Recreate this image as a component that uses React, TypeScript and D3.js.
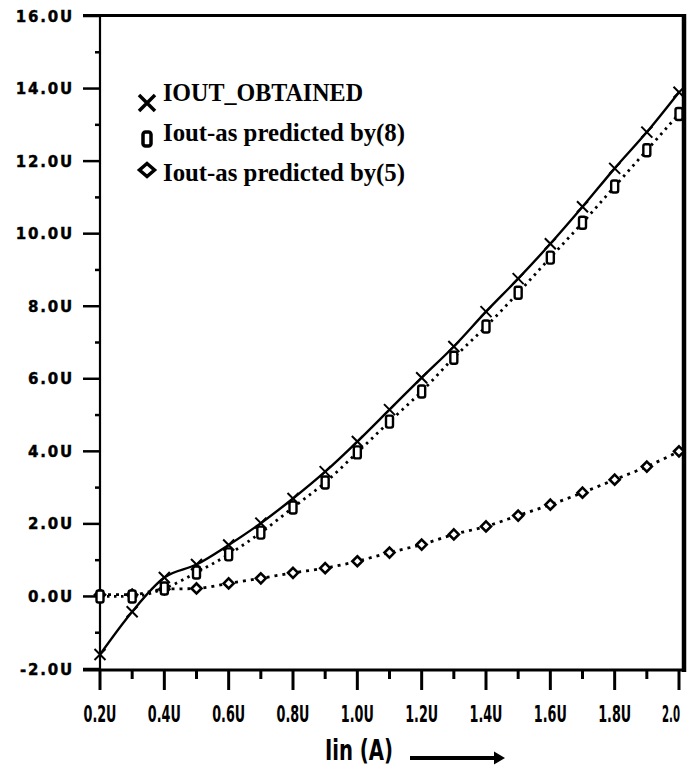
import React, { useEffect, useRef } from 'react';
import * as d3 from 'd3';

// Iin values (A, in micro units)
const iin = [0.2, 0.3, 0.4, 0.5, 0.6, 0.7, 0.8, 0.9, 1.0, 1.1, 1.2, 1.3, 1.4, 1.5, 1.6, 1.7, 1.8, 1.9, 2.0];
const ioutObtained = [-1.6, -0.42, 0.52, 0.88, 1.42, 2.02, 2.7, 3.44, 4.27, 5.15, 6.03, 6.89, 7.85, 8.76, 9.72, 10.74, 11.8, 12.8, 13.9];
const ioutPred8 = [0.0, 0.0, 0.22, 0.66, 1.16, 1.76, 2.45, 3.14, 3.97, 4.82, 5.65, 6.58, 7.44, 8.37, 9.34, 10.3, 11.3, 12.3, 13.3];
const ioutPred5 = [0.05, 0.05, 0.2, 0.22, 0.36, 0.5, 0.65, 0.78, 0.97, 1.21, 1.43, 1.71, 1.93, 2.23, 2.53, 2.86, 3.22, 3.58, 4.0];

const yTicks = [-2, 0, 2, 4, 6, 8, 10, 12, 14, 16];
const yMinor = [-1, 1, 3, 5, 7, 9, 11, 13, 15];
const xTicks = [0.2, 0.4, 0.6, 0.8, 1.0, 1.2, 1.4, 1.6, 1.8, 2.0];
const xMinor = [0.3, 0.5, 0.7, 0.9, 1.1, 1.3, 1.5, 1.7, 1.9];
const xTickLabels = ['0.2U', '0.4U', '0.6U', '0.8U', '1.0U', '1.2U', '1.4U', '1.6U', '1.8U', '2.0'];
const legendLabels = ['IOUT_OBTAINED', 'Iout-as predicted by(8)', 'Iout-as predicted by(5)'];

const W = 698, H = 770;

function App() {
  const svgRef = useRef<SVGSVGElement>(null);

  useEffect(() => {
    const svg = d3.select(svgRef.current);
    svg.selectAll('*').remove();

    const x = d3.scaleLinear().domain([0.2, 2.0]).range([100, 679]);
    const y = d3.scaleLinear().domain([-2, 16]).range([669, 16]);

    // frame
    svg.append('line').attr('x1', 83).attr('x2', 686).attr('y1', 15.5).attr('y2', 15.5)
      .attr('stroke', '#000').attr('stroke-width', 3);
    svg.append('line').attr('x1', 100).attr('x2', 100).attr('y1', 16).attr('y2', 670)
      .attr('stroke', '#000').attr('stroke-width', 2.2);
    svg.append('line').attr('x1', 684).attr('x2', 684).attr('y1', 14).attr('y2', 672)
      .attr('stroke', '#000').attr('stroke-width', 4.5);
    svg.append('line').attr('x1', 83).attr('x2', 686).attr('y1', 670).attr('y2', 670)
      .attr('stroke', '#000').attr('stroke-width', 3);

    // y ticks
    svg.selectAll('.ytick').data(yTicks).enter().append('line')
      .attr('x1', 83).attr('x2', 100)
      .attr('y1', d => y(d)).attr('y2', d => y(d))
      .attr('stroke', '#000').attr('stroke-width', 2.5);
    svg.selectAll('.yminor').data(yMinor).enter().append('line')
      .attr('x1', 95).attr('x2', 100)
      .attr('y1', d => y(d)).attr('y2', d => y(d))
      .attr('stroke', '#000').attr('stroke-width', 2.5);
    svg.selectAll('.ylabel').data(yTicks).enter().append('text')
      .attr('x', 74).attr('y', d => y(d) + 5.5)
      .attr('text-anchor', 'end')
      .attr('font-family', 'DejaVu Sans')
      .attr('font-weight', 'bold')
      .attr('font-size', 15)
      .attr('letter-spacing', 1.8)
      .attr('stroke', '#000').attr('stroke-width', 0.4)
      .text(d => d.toFixed(1) + 'U');

    // x ticks
    svg.selectAll('.xtick').data(xTicks).enter().append('line')
      .attr('x1', d => x(d)).attr('x2', d => x(d))
      .attr('y1', 670).attr('y2', 690)
      .attr('stroke', '#000').attr('stroke-width', 3);
    svg.selectAll('.xminor').data(xMinor).enter().append('line')
      .attr('x1', d => x(d)).attr('x2', d => x(d))
      .attr('y1', 670).attr('y2', 679)
      .attr('stroke', '#000').attr('stroke-width', 3);
    svg.selectAll('.xlabel').data(xTicks).enter().append('text')
      .attr('x', (d, i) => i === xTicks.length - 1 ? x(d) - 8 : x(d))
      .attr('y', 722)
      .attr('text-anchor', 'middle')
      .attr('font-family', 'Liberation Sans Narrow, DejaVu Sans Condensed, sans-serif')
      .attr('font-weight', 'bold')
      .attr('font-size', 23)
      .attr('textLength', (d, i) => i === xTicks.length - 1 ? 18 : 33)
      .attr('lengthAdjust', 'spacingAndGlyphs')
      .text((d, i) => xTickLabels[i]);

    // axis title + arrow
    svg.append('text')
      .attr('x', 325).attr('y', 760)
      .attr('font-family', 'Liberation Sans Narrow, DejaVu Sans Condensed, sans-serif')
      .attr('font-weight', 'bold')
      .attr('font-size', 29)
      .attr('textLength', 68)
      .attr('lengthAdjust', 'spacingAndGlyphs')
      .text('Iin (A)');
    svg.append('line').attr('x1', 410).attr('x2', 496).attr('y1', 758).attr('y2', 758)
      .attr('stroke', '#000').attr('stroke-width', 4);
    svg.append('path').attr('d', 'M494,751.5 L505,758 L494,764.5 Z').attr('fill', '#000');

    const pts = (vals: number[]) => iin.map((v, i) => [v, vals[i]] as [number, number]);
    const line = d3.line<[number, number]>()
      .x(d => x(d[0])).y(d => y(d[1]))
      .curve(d3.curveMonotoneX);

    // predicted by (5): dash-dot
    svg.append('path').attr('d', line(pts(ioutPred5)))
      .attr('fill', 'none').attr('stroke', '#000').attr('stroke-width', 2.8)
      .attr('stroke-dasharray', '3,5');
    // predicted by (8): dotted
    svg.append('path').attr('d', line(pts(ioutPred8)))
      .attr('fill', 'none').attr('stroke', '#000').attr('stroke-width', 2.8)
      .attr('stroke-dasharray', '2.5,4.5');
    // obtained: solid
    svg.append('path').attr('d', line(pts(ioutObtained)))
      .attr('fill', 'none').attr('stroke', '#000').attr('stroke-width', 2.4);

    // markers
    const diamond = (cx: number, cy: number, rx: number, ry: number) =>
      `M${cx},${cy - ry} L${cx + rx},${cy} L${cx},${cy + ry} L${cx - rx},${cy} Z`;
    const cross = (cx: number, cy: number, r: number) =>
      `M${cx - r},${cy - r} L${cx + r},${cy + r} M${cx + r},${cy - r} L${cx - r},${cy + r}`;

    svg.selectAll('.m5').data(pts(ioutPred5)).enter().append('path')
      .attr('d', d => diamond(x(d[0]), y(d[1]), 5, 5))
      .attr('fill', '#fff').attr('stroke', '#000').attr('stroke-width', 2.6);
    svg.selectAll('.m8').data(pts(ioutPred8)).enter().append('rect')
      .attr('x', d => x(d[0]) - 3.5).attr('y', d => y(d[1]) - 6)
      .attr('width', 7).attr('height', 12).attr('rx', 2)
      .attr('fill', '#fff').attr('stroke', '#000').attr('stroke-width', 2.4);
    svg.selectAll('.mo').data(pts(ioutObtained)).enter().append('path')
      .attr('d', d => cross(x(d[0]), y(d[1]), 5.5))
      .attr('fill', 'none').attr('stroke', '#000').attr('stroke-width', 2);

    // legend
    svg.append('path').attr('d', cross(147, 103, 8))
      .attr('fill', 'none').attr('stroke', '#000').attr('stroke-width', 3.5);
    svg.append('rect').attr('x', 143).attr('y', 132).attr('width', 8).attr('height', 14).attr('rx', 2.5)
      .attr('fill', '#fff').attr('stroke', '#000').attr('stroke-width', 3.5);
    svg.append('path').attr('d', diamond(147, 170, 7.5, 6.5))
      .attr('fill', '#fff').attr('stroke', '#000').attr('stroke-width', 3.5);

    const legendY = [101, 141, 181];
    const legendLen = [200, 242, 242];
    svg.selectAll('.legtext').data(legendLabels).enter().append('text')
      .attr('x', 163).attr('y', (d, i) => legendY[i])
      .attr('font-family', 'Liberation Serif, serif')
      .attr('font-weight', 'bold')
      .attr('font-size', 26)
      .attr('textLength', (d, i) => legendLen[i])
      .attr('lengthAdjust', 'spacingAndGlyphs')
      .text(d => d);
  }, []);

  return (
    <svg ref={svgRef} width={W} height={H}
         style={{ position: 'absolute', left: 0, top: 0, background: '#fff' }} />
  );
}

export default App;
